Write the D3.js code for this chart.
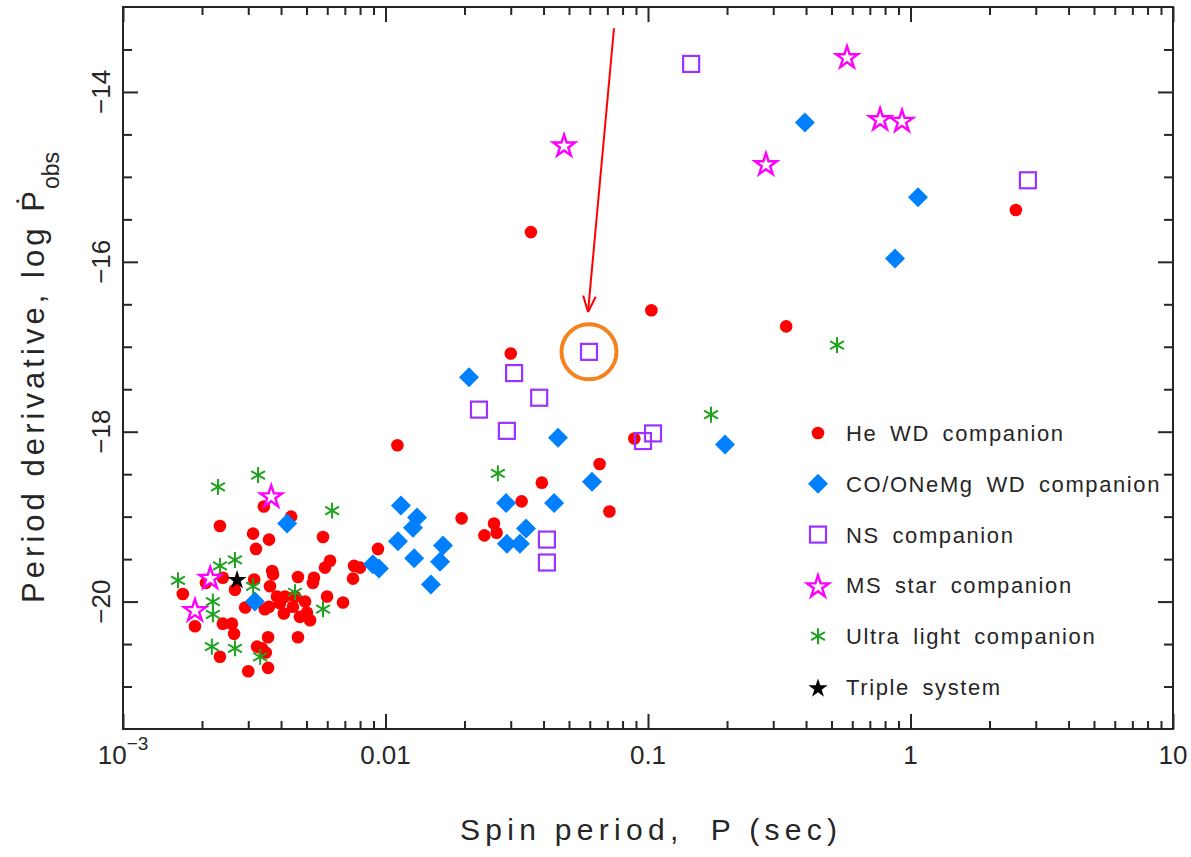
<!DOCTYPE html>
<html>
<head>
<meta charset="utf-8">
<script src="https://cdn.jsdelivr.net/npm/d3@7"></script>
<style>
  body { margin: 0; background: #fff; }
  text { font-family: "Liberation Sans", Arial, sans-serif; fill: #262626; }
</style>
</head>
<body>
<svg id="chart" width="1191" height="857"></svg>
<script>
// [spin period P (s), log Pdot]
const heWD = [
  [2.52,-15.39],[0.0358,-15.65],[0.103,-16.57],[0.336,-16.76],[0.030,-17.08],
  [0.0111,-18.16],[0.0887,-18.08],[0.0654,-18.38],[0.0394,-18.60],[0.0330,-18.82],
  [0.0713,-18.94],[0.0195,-19.02],[0.0259,-19.08],[0.0265,-19.19],[0.0238,-19.22],
  [0.00936,-19.38],
  [0.00344,-18.88],[0.00437,-19.00],[0.00234,-19.11],[0.00313,-19.20],[0.0036,-19.27],
  [0.00578,-19.24],[0.00321,-19.38],[0.00615,-19.52],[0.00588,-19.60],[0.00759,-19.58],
  [0.0080,-19.60],[0.0037,-19.64],[0.00373,-19.68],[0.00464,-19.71],[0.00534,-19.72],
  [0.00529,-19.78],[0.00752,-19.73],[0.00316,-19.74],[0.00207,-19.78],[0.0024,-19.72],
  [0.00267,-19.86],[0.00169,-19.91],[0.00363,-19.82],[0.00386,-19.94],[0.00414,-19.94],
  [0.00452,-19.94],[0.0036,-20.06],[0.00396,-20.02],[0.0041,-20.14],[0.00444,-20.06],
  [0.00494,-20.00],[0.00502,-20.13],[0.00516,-20.22],[0.00472,-20.18],[0.00599,-19.94],
  [0.00689,-20.01],[0.00292,-20.07],[0.00347,-20.09],[0.00188,-20.29],[0.0024,-20.26],
  [0.0026,-20.26],[0.00265,-20.38],[0.00357,-20.42],[0.00464,-20.42],[0.00324,-20.53],
  [0.00338,-20.55],[0.0035,-20.60],[0.00234,-20.65],[0.0030,-20.82],[0.00357,-20.78]
];
const coWD = [
  [0.396,-14.36],[1.068,-15.24],[0.873,-15.96],[0.1965,-18.15],[0.0612,-18.59],
  [0.0454,-18.07],[0.0439,-18.84],[0.0288,-18.84],[0.0343,-19.14],[0.0325,-19.32],
  [0.0290,-19.32],[0.0208,-17.36],[0.01145,-18.87],[0.01318,-19.01],[0.01273,-19.13],
  [0.01116,-19.29],[0.01656,-19.34],[0.01614,-19.53],[0.01286,-19.49],[0.00895,-19.56],
  [0.00944,-19.61],[0.0149,-19.80],[0.00422,-19.08],[0.00318,-20.00]
];
const nsComp = [
  [0.146,-13.67],[2.80,-15.04],[0.0596,-17.06],[0.0309,-17.31],[0.0385,-17.60],
  [0.0227,-17.74],[0.0290,-17.99],[0.0957,-18.11],[0.1045,-18.02],[0.0412,-19.27],
  [0.0412,-19.54]
];
const msStar = [
  [0.573,-13.58],[0.766,-14.31],[0.928,-14.33],[0.0479,-14.62],[0.2814,-14.84],
  [0.00367,-18.75],[0.00215,-19.71],[0.00188,-20.09]
];
const ultraLight = [
  [0.525,-16.98],[0.1738,-17.80],[0.0268,-18.49],[0.0023,-18.65],[0.00327,-18.51],
  [0.00626,-18.93],[0.00234,-19.58],[0.00267,-19.51],[0.00162,-19.75],[0.0022,-20.00],
  [0.0022,-20.15],[0.00218,-20.53],[0.00267,-20.55],[0.00313,-19.82],[0.00452,-19.89],
  [0.00578,-20.09],[0.00333,-20.65]
];
const triple = [[0.00272,-19.73]];

// highlighted NS system and the arrow pointing at it
const highlight = [0.0596, -17.06];
const arrowFrom = [0.0742, -13.25];
const arrowTo = [0.0591, -16.59];

const xTickLabels = ["0.01", "0.1", "1", "10"];
const yTicks = [-14, -16, -18, -20];

const legendItems = [
  ["he", "He WD companion"],
  ["co", "CO/ONeMg WD companion"],
  ["ns", "NS companion"],
  ["ms", "MS star companion"],
  ["ul", "Ultra light companion"],
  ["tr", "Triple system"]
];

const svg = d3.select("#chart");
svg.append("rect").attr("width", 1191).attr("height", 857).attr("fill", "#fff");

const x = d3.scaleLog().domain([1e-3, 10]).range([123, 1173]);
const y = d3.scaleLinear().domain([-21.5, -13]).range([729, 7]);

const ink = "#262626";

// tick positions
const xMajor = [1e-3, 1e-2, 1e-1, 1, 10];
const xMinor = [];
for (let d = -3; d < 1; d++) for (let k = 2; k <= 9; k++) xMinor.push(k * Math.pow(10, d));
const yMajor = yTicks;
const yMinor = d3.range(-21, -13, 0.5).filter(v => !yMajor.includes(v));

function styleAxis(g) {
  g.select(".domain").remove();
  g.selectAll("line").attr("stroke", ink).attr("stroke-width", 2);
}

// bottom / top
svg.append("g").attr("transform", `translate(0,${y(-21.5)})`)
  .call(d3.axisBottom(x).tickValues(xMajor).tickSize(-15).tickFormat("")).call(styleAxis);
svg.append("g").attr("transform", `translate(0,${y(-21.5)})`)
  .call(d3.axisBottom(x).tickValues(xMinor).tickSize(-8).tickFormat("")).call(styleAxis);
svg.append("g").attr("transform", `translate(0,${y(-13)})`)
  .call(d3.axisTop(x).tickValues(xMajor).tickSize(-15).tickFormat("")).call(styleAxis);
svg.append("g").attr("transform", `translate(0,${y(-13)})`)
  .call(d3.axisTop(x).tickValues(xMinor).tickSize(-8).tickFormat("")).call(styleAxis);
// left / right
svg.append("g").attr("transform", `translate(${x(1e-3)},0)`)
  .call(d3.axisLeft(y).tickValues(yMajor).tickSize(-15).tickFormat("")).call(styleAxis);
svg.append("g").attr("transform", `translate(${x(1e-3)},0)`)
  .call(d3.axisLeft(y).tickValues(yMinor).tickSize(-9).tickFormat("")).call(styleAxis);
svg.append("g").attr("transform", `translate(${x(10)},0)`)
  .call(d3.axisRight(y).tickValues(yMajor).tickSize(-15).tickFormat("")).call(styleAxis);
svg.append("g").attr("transform", `translate(${x(10)},0)`)
  .call(d3.axisRight(y).tickValues(yMinor).tickSize(-9).tickFormat("")).call(styleAxis);

svg.append("rect")
  .attr("x", x(1e-3)).attr("y", y(-13))
  .attr("width", x(10) - x(1e-3)).attr("height", y(-21.5) - y(-13))
  .attr("fill", "none").attr("stroke", ink).attr("stroke-width", 2);

// x tick labels
const xl = svg.append("g").attr("font-size", 26);
const t3 = xl.append("text").attr("x", x(1e-3)).attr("y", 764).attr("text-anchor", "middle");
t3.append("tspan").text("10");
t3.append("tspan").attr("font-size", 19).attr("dy", -14).text("−3");
xl.selectAll(".xt").data(xTickLabels).join("text")
  .attr("x", (d, i) => x(xMajor[i + 1])).attr("y", 764)
  .attr("text-anchor", "middle").text(d => d);

// y tick labels (rotated)
svg.append("g").attr("font-size", 26).selectAll("text").data(yTicks).join("text")
  .attr("transform", d => `translate(110,${y(d)}) rotate(-90)`)
  .attr("text-anchor", "middle").text(d => "−" + Math.abs(d));

// axis titles
svg.append("text").attr("x", 460).attr("y", 840)
  .attr("font-size", 30).attr("xml:space", "preserve")
  .attr("textLength", 377).attr("lengthAdjust", "spacing")
  .text("Spin period,  P (sec)");
svg.append("text").attr("transform", "translate(44,603) rotate(-90)")
  .attr("font-size", 31).attr("textLength", 412).attr("lengthAdjust", "spacing")
  .text("Period derivative, log Ṗ");
svg.append("text").attr("transform", "translate(59,189) rotate(-90)")
  .attr("font-size", 23).text("obs");

// marker shapes
const starPath = d3.symbol(d3.symbolStar).size(150)();
const bigStar = d3.symbol(d3.symbolStar).size(115)();
const diamond = d3.symbol(d3.symbolSquare).size(200)();

function drawMarker(g, type, cx, cy) {
  const m = g.append("g").attr("transform", `translate(${cx},${cy})`);
  if (type === "he") {
    m.append("circle").attr("r", 6.3).attr("fill", "#ff0000");
  } else if (type === "co") {
    m.append("path").attr("d", diamond).attr("transform", "rotate(45)").attr("fill", "#0080ff");
  } else if (type === "ns") {
    m.append("rect").attr("x", -8).attr("y", -8).attr("width", 16).attr("height", 16)
      .attr("fill", "none").attr("stroke", "#9933ff").attr("stroke-width", 2.2);
  } else if (type === "ms") {
    m.append("path").attr("d", starPath).attr("transform", "translate(0,1.5)")
      .attr("fill", "#fff").attr("stroke", "#ff00ff").attr("stroke-width", 2.4);
  } else if (type === "ul") {
    [90, 30, -30].forEach(a => {
      const r = 8, c = Math.cos(a * Math.PI / 180) * r, s = Math.sin(a * Math.PI / 180) * r;
      m.append("line").attr("x1", -c).attr("y1", -s).attr("x2", c).attr("y2", s)
        .attr("stroke", "#1fa31f").attr("stroke-width", 2);
    });
  } else if (type === "tr") {
    m.append("path").attr("d", bigStar).attr("transform", "translate(0,1.5)").attr("fill", "#000");
  }
}

const series = [
  ["he", heWD], ["co", coWD], ["ns", nsComp], ["ms", msStar], ["ul", ultraLight], ["tr", triple]
];
const pts = svg.append("g");
series.forEach(([type, data]) => {
  data.forEach(d => drawMarker(pts, type, x(d[0]), y(d[1])));
});

// orange ring around the highlighted system
svg.append("circle").attr("cx", x(highlight[0])).attr("cy", y(highlight[1])).attr("r", 27.5)
  .attr("fill", "none").attr("stroke", "#f5821f").attr("stroke-width", 4);

// red arrow
const ax1 = x(arrowFrom[0]), ay1 = y(arrowFrom[1]), ax2 = x(arrowTo[0]), ay2 = y(arrowTo[1]);
const ang = Math.atan2(ay2 - ay1, ax2 - ax1);
const arrow = svg.append("g").attr("stroke", "#ff0000").attr("stroke-width", 2).attr("fill", "none");
arrow.append("line").attr("x1", ax1).attr("y1", ay1).attr("x2", ax2).attr("y2", ay2);
[-0.38, 0.38].forEach(o => {
  arrow.append("line").attr("x1", ax2).attr("y1", ay2)
    .attr("x2", ax2 - 17 * Math.cos(ang + o)).attr("y2", ay2 - 17 * Math.sin(ang + o));
});

// legend
const legend = svg.append("g");
legendItems.forEach(([type, label], i) => {
  const ly = 433 + i * 50.8;
  drawMarker(legend, type, 818, ly);
  legend.append("text").attr("x", 846).attr("y", ly + 8).attr("font-size", 22)
    .attr("letter-spacing", 1.6).attr("word-spacing", 5).text(label);
});
</script>
</body>
</html>
